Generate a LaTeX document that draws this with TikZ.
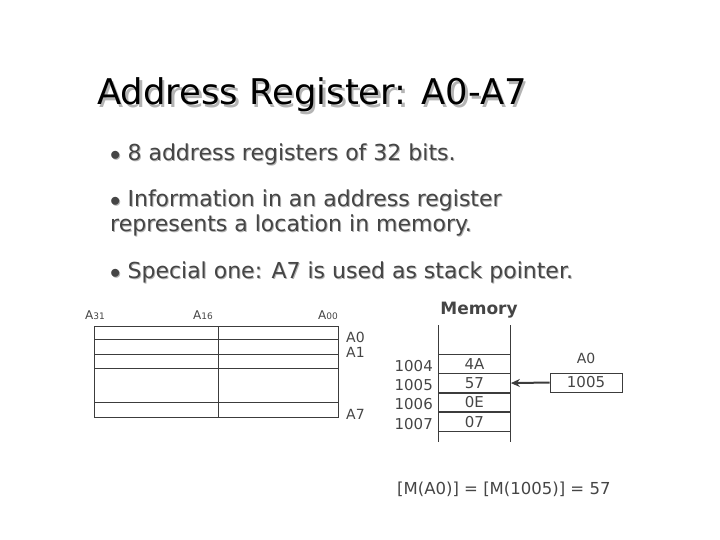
\documentclass[tikz,border=0pt]{standalone}
\usepackage{fontspec}
\setmainfont{DejaVu Sans}
\usetikzlibrary{positioning, arrows.meta}
\definecolor{inkGray}{HTML}{454545}
\definecolor{shadeGray}{HTML}{B4B4B4}
\definecolor{lineGray}{HTML}{3C3C3C}

\begin{document}
\begin{tikzpicture}[x=1pt, y=-1pt,
    ttl/.style={font=\fontsize{35.4}{38}\selectfont, anchor=base west, inner sep=0pt},
    txt/.style={font=\fontsize{22}{25}\selectfont, anchor=base west, inner sep=0pt,
      align=left, text=inkGray},
    lbl/.style={font=\fontsize{14}{14}\selectfont, inner sep=0pt, text=inkGray},
    idx/.style={font=\fontsize{12}{12}\selectfont, inner sep=0pt, text=inkGray},
    cell/.style={draw=lineGray, line width=0.9pt, minimum width=72pt, minimum height=18.5pt,
      inner sep=0pt, font=\fontsize{15}{15}\selectfont, text=inkGray},
    grid/.style={draw=lineGray, line width=0.9pt},
    arr/.style={-{Stealth[length=9pt, width=8pt]}, lineGray, line width=2pt}]
    \useasboundingbox (0,0) rectangle (720,540);
    % title with its shadow
    \node[ttl, text=shadeGray] (title-s) at (99.5,107.5) {Address Register: A0-A7};
    \node[ttl] (title) at (97,105) {Address Register: A0-A7};
    % bullet lines
    \node[txt, text=shadeGray] (b1-s) at (111,162) {$\bullet$ 8 address registers of 32 bits.};
    \node[txt] (b1) at (110,161) {$\bullet$ 8 address registers of 32 bits.};
    \node[txt, text=shadeGray] (b2-s) at (111,233) {$\bullet$ Information in an address register\\represents a location in memory.};
    \node[txt] (b2) at (110,232) {$\bullet$ Information in an address register\\represents a location in memory.};
    \node[txt, text=shadeGray] (b3-s) at (111,279) {$\bullet$ Special one: A7 is used as stack pointer.};
    \node[txt] (b3) at (110,278) {$\bullet$ Special one: A7 is used as stack pointer.};

    % register file
    \draw[grid] (94,326) rectangle (338,417);
    \foreach \y in {339,354,368,402} \draw[grid] (94,\y) -- (338,\y);
    \draw[grid] (218,326) -- (218,417);
    \node[idx] (a31) at (95,315) {A\fontsize{9}{9}\selectfont 31};
    \node[idx] (a16) at (203,315) {A\fontsize{9}{9}\selectfont 16};
    \node[idx] (a00) at (328,315) {A\fontsize{9}{9}\selectfont 00};
    \node[lbl, anchor=west] (r0) at (346,337) {A0};
    \node[lbl, anchor=west] (r1) at (346,352) {A1};
    \node[lbl, anchor=west] (r7) at (346,414) {A7};

    % memory
    \node[font=\fontsize{17}{17}\selectfont\bfseries, text=inkGray] (mem) at (479,310) {Memory};
    \node[cell, anchor=north west] (m4) at (438,354) {4A};
    \node[cell, below=0pt of m4] (m5) {57};
    \node[cell, below=0pt of m5] (m6) {0E};
    \node[cell, below=0pt of m6] (m7) {07};
    \draw[grid] (m4.north west) -- ++(0,-29) (m4.north east) -- ++(0,-29);
    \draw[grid] (m7.south west) -- ++(0,10) (m7.south east) -- ++(0,10);
    \foreach \c/\n in {m4/1004,m5/1005,m6/1006,m7/1007}
      \node[lbl, font=\fontsize{15}{15}\selectfont, anchor=east] (ad\n) at ([xshift=-5pt, yshift=-2pt]\c.west) {\n};

    % pointer register
    \node[cell, minimum height=19pt] (ptr) at (586,382.5) {1005};
    \node[lbl, above=9pt of ptr] (ptr-l) {A0};
    \draw[arr] (ptr.west) -- (m5.east);

    \node[font=\fontsize{16.5}{17}\selectfont, text=inkGray, anchor=base west, inner sep=0pt] (eq) at (397,494)
      {[M(A0)] = [M(1005)] = 57};
  \end{tikzpicture}
\end{document}
